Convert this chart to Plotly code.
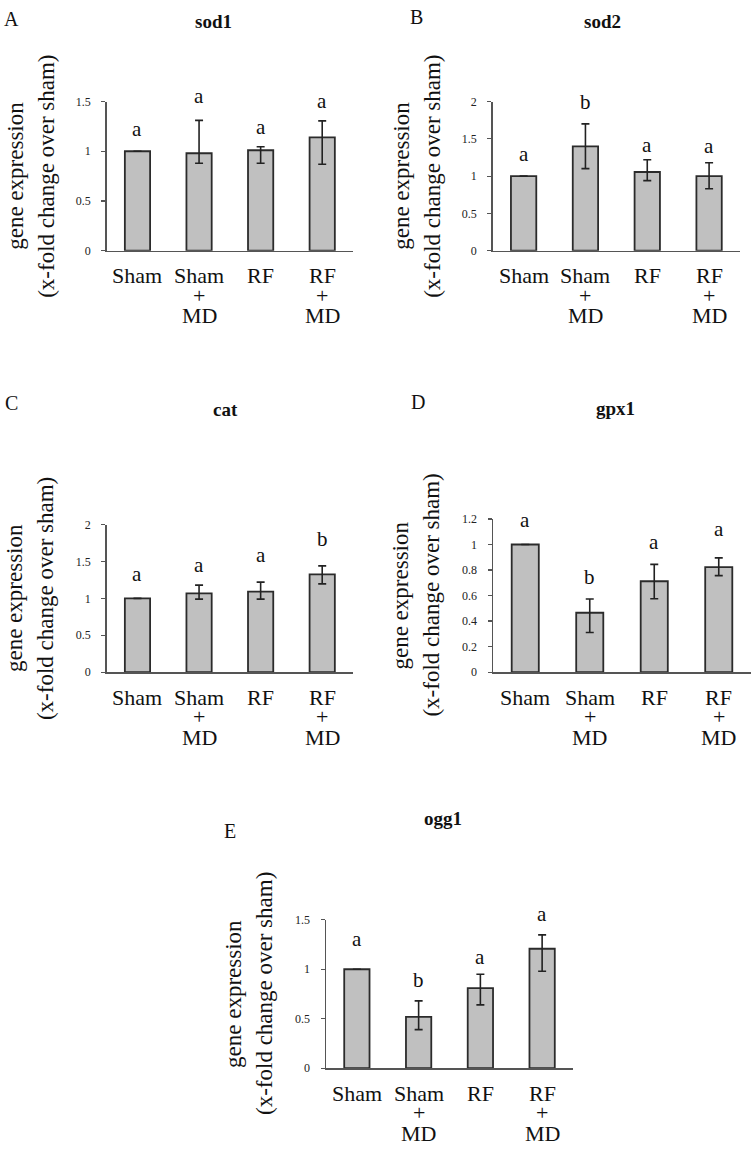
import plotly.graph_objects as go

W, H = 754, 1150

categories = ["Sham", "Sham+MD", "RF", "RF+MD"]

genes = ["sod1", "sod2", "cat", "gpx1", "ogg1"]
panel_letters = ["A", "B", "C", "D", "E"]

sod1_mean = [1.0, 0.98, 1.01, 1.14]
sod1_err_hi = [0.0, 0.33, 0.035, 0.165]
sod1_err_lo = [0.0, 0.10, 0.13, 0.27]
sod1_sig = ["a", "a", "a", "a"]
sod1_sig_y = [1.225, 1.556, 1.241, 1.507]

sod2_mean = [1.0, 1.40, 1.055, 1.0]
sod2_err_hi = [0.0, 0.30, 0.165, 0.18]
sod2_err_lo = [0.0, 0.30, 0.115, 0.17]
sod2_sig = ["a", "b", "a", "a"]
sod2_sig_y = [1.303, 2.0, 1.413, 1.40]

cat_mean = [1.0, 1.067, 1.09, 1.326]
cat_err_hi = [0.0, 0.113, 0.13, 0.114]
cat_err_lo = [0.0, 0.077, 0.10, 0.13]
cat_sig = ["a", "a", "a", "b"]
cat_sig_y = [1.326, 1.447, 1.594, 1.808]

gpx1_mean = [1.0, 0.465, 0.712, 0.823]
gpx1_err_hi = [0.0, 0.108, 0.132, 0.072]
gpx1_err_lo = [0.0, 0.155, 0.137, 0.067]
gpx1_sig = ["a", "b", "a", "a"]
gpx1_sig_y = [1.194, 0.748, 1.019, 1.122]

ogg1_mean = [1.0, 0.519, 0.81, 1.207]
ogg1_err_hi = [0.0, 0.161, 0.14, 0.14]
ogg1_err_lo = [0.0, 0.129, 0.17, 0.227]
ogg1_sig = ["a", "b", "a", "a"]
ogg1_sig_y = [1.307, 0.891, 1.121, 1.557]

sod1_ticks = [0, 0.5, 1, 1.5]
sod2_ticks = [0, 0.5, 1, 1.5, 2]
cat_ticks = [0, 0.5, 1, 1.5, 2]
gpx1_ticks = [0, 0.2, 0.4, 0.6, 0.8, 1, 1.2]
ogg1_ticks = [0, 0.5, 1, 1.5]

means = [sod1_mean, sod2_mean, cat_mean, gpx1_mean, ogg1_mean]
errs_hi = [sod1_err_hi, sod2_err_hi, cat_err_hi, gpx1_err_hi, ogg1_err_hi]
errs_lo = [sod1_err_lo, sod2_err_lo, cat_err_lo, gpx1_err_lo, ogg1_err_lo]
sigs = [sod1_sig, sod2_sig, cat_sig, gpx1_sig, ogg1_sig]
sig_ys = [sod1_sig_y, sod2_sig_y, cat_sig_y, gpx1_sig_y, ogg1_sig_y]
ticks = [sod1_ticks, sod2_ticks, cat_ticks, gpx1_ticks, ogg1_ticks]

# layout (pixel boxes of each plot area: x0, x1, y_top, y_bottom)
boxes = [
    (106.7, 353, 95.7, 246.7),
    (492.7, 740, 95.7, 246.7),
    (106.7, 353, 524, 673.3),
    (493, 751, 518.3, 673.3),
    (326, 573, 924, 1074.3),
]
bar_widths = [0.41, 0.41, 0.41, 0.42, 0.41]
title_pos = [(214, 15), (602, 15), (225, 407), (615, 406), (443, 821)]
letter_pos = [(11, 12), (417, 10), (11, 401), (418, 400), (230, 834)]

SERIF = "Liberation Serif, Times New Roman, serif"

fig = go.Figure()
annotations = []

for i in range(5):
    n = i + 1
    xs = "x" if n == 1 else f"x{n}"
    ys = "y" if n == 1 else f"y{n}"
    fig.add_trace(go.Bar(
        x=categories, y=means[i], xaxis=xs, yaxis=ys,
        width=bar_widths[i],
        marker=dict(color="#c0c0c0", line=dict(color="#2b2b2b", width=1.8)),
        error_y=dict(type="data", symmetric=False, array=errs_hi[i],
                     arrayminus=errs_lo[i], color="#222222",
                     thickness=1.6, width=4),
        hoverinfo="skip",
    ))
    x0, x1, yt, yb = boxes[i]
    dom_x = [x0 / W, x1 / W]
    dom_y = [1 - yb / H, 1 - yt / H]
    tv = ticks[i]
    ymax = tv[-1]
    fig.update_layout(**{
        f"xaxis{'' if n == 1 else n}": dict(
            domain=dom_x, anchor=ys, type="category",
            range=[-0.5, 3.5], showticklabels=False, ticks="",
            showline=True, linecolor="#555555", linewidth=1.5,
            showgrid=False, zeroline=False, fixedrange=True),
        f"yaxis{'' if n == 1 else n}": dict(
            domain=dom_y, anchor=xs, range=[0, ymax],
            tickvals=tv, ticktext=[f"{t:g}" for t in tv],
            ticks="outside", ticklen=4, tickwidth=1.2, tickcolor="#555555",
            tickfont=dict(family=SERIF, size=12, color="#222222"),
            ticklabelstandoff=8,
            showline=True, linecolor="#555555", linewidth=1.5,
            showgrid=False, zeroline=False, fixedrange=True),
    })
    # significance letters (domain refs so labels above range stay visible)
    for c, s, sy in zip(categories, sigs[i], sig_ys[i]):
        annotations.append(dict(
            xref=xs, yref=f"{ys} domain", x=c, y=sy / ymax, text=s,
            showarrow=False, yanchor="middle",
            font=dict(family=SERIF, size=21, color="#111")))
    # category labels (line by line)
    for c in categories:
        parts = c.split("+")
        lines = [parts[0]] if len(parts) == 1 else [parts[0], "+", parts[1]]
        for k, ln in enumerate(lines):
            annotations.append(dict(
                xref=xs, yref=f"{ys} domain", x=c, y=0, text=ln,
                showarrow=False, yanchor="middle",
                yshift=[-25, -44.5, -65][k],
                font=dict(family=SERIF, size=22, color="#111")))
    # y axis title (two lines)
    for txt, sh in [("gene expression", -92), ("(x-fold change over sham)", -61)]:
        annotations.append(dict(
            xref=f"{xs} domain", yref=f"{ys} domain", x=0, y=0.5,
            xshift=sh, text=txt, textangle=-90, showarrow=False,
            xanchor="center", yanchor="middle",
            font=dict(family=SERIF, size=23, color="#111")))
    # panel title
    tx, ty = title_pos[i]
    annotations.append(dict(
        xref="paper", yref="paper", x=tx / W, y=1 - ty / H,
        text=f"<b>{genes[i]}</b>", showarrow=False,
        xanchor="center", yanchor="middle",
        font=dict(family=SERIF, size=19, color="#111")))
    lx, ly = letter_pos[i]
    annotations.append(dict(
        xref="paper", yref="paper", x=lx / W, y=1 - ly / H,
        text=panel_letters[i], showarrow=False,
        xanchor="center", yanchor="middle",
        font=dict(family=SERIF, size=20, color="#111")))

fig.update_layout(
    width=W, height=H, margin=dict(l=0, r=0, t=0, b=0),
    paper_bgcolor="white", plot_bgcolor="white",
    showlegend=False, annotations=annotations,
)

fig.write_html(
    "out.html",
    config={"displayModeBar": False, "staticPlot": True},
    post_script="document.body.style.margin='0';document.body.style.overflow='hidden';",
)
